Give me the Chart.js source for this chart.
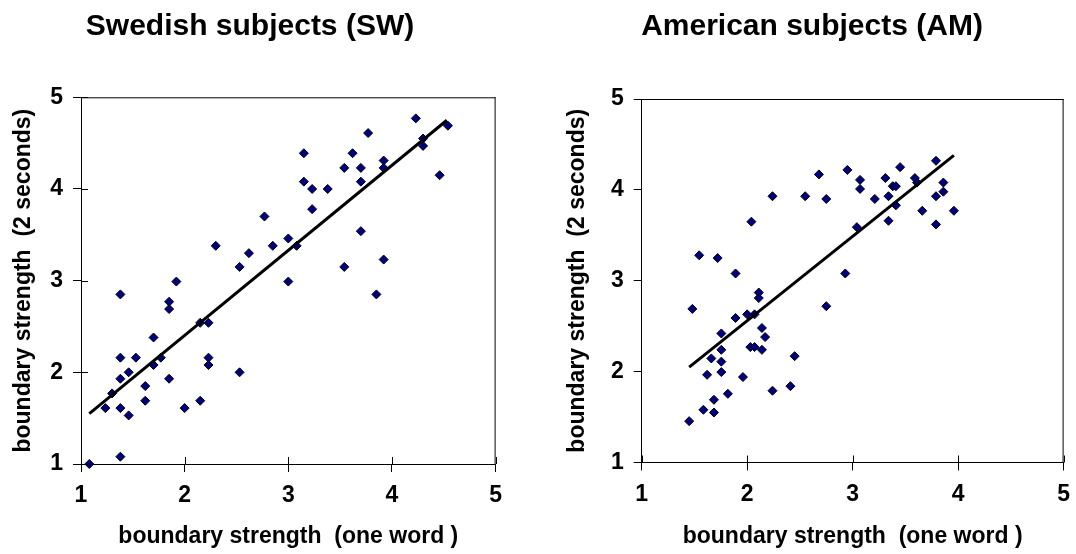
<!DOCTYPE html>
<html><head><meta charset="utf-8">
<script src="https://cdn.jsdelivr.net/npm/chart.js@4.4.1/dist/chart.umd.min.js"></script>
<style>
html,body{margin:0;padding:0;background:#fff;overflow:hidden;width:1076px;height:554px;}
canvas{position:absolute;top:0;}
#c1{left:0px;}
#c2{left:556px;}
</style></head><body>
<canvas id="c1" width="512" height="554"></canvas>
<canvas id="c2" width="524" height="554"></canvas>
<script>
// Swedish subjects (SW)
const swX = [1.08,1.38,1.235,1.38,1.46,1.30,1.38,1.46,1.38,1.53,1.38,1.62,1.62,1.70,1.77,1.70,1.85,1.85,1.85,1.92,2.00,2.15,2.15,2.23,2.23,2.23,2.30,2.53,2.53,2.62,2.77,2.85,3.00,3.08,3.00,3.15,3.15,3.23,3.23,3.38,3.54,3.62,3.70,3.70,3.77,3.70,3.54,3.92,3.92,3.92,3.85,4.23,4.30,4.30,4.54,4.46];
const swY = [1.00,1.08,1.61,1.61,1.53,1.77,1.93,2.00,2.16,2.16,2.85,1.85,1.69,2.08,2.16,2.38,1.93,2.69,2.77,2.99,1.61,1.69,2.54,2.54,2.16,2.08,3.38,2.00,3.15,3.30,3.70,3.38,3.46,3.38,2.99,4.39,4.08,4.00,3.78,4.00,4.23,4.39,4.23,4.08,4.61,3.54,3.15,4.31,4.23,3.23,2.85,4.77,4.55,4.47,4.69,4.15];
// American subjects (AM)
const amX = [1.45,1.48,1.545,1.585,1.62,1.66,1.685,1.685,1.72,1.755,1.755,1.755,1.755,1.817,1.89,1.89,1.96,2.00,2.04,2.07,2.03,2.07,2.11,2.11,2.14,2.14,2.17,2.24,2.24,2.41,2.45,2.55,2.68,2.75,2.75,2.95,2.93,3.04,3.07,3.07,3.21,3.31,3.34,3.34,3.38,3.41,3.41,3.45,3.59,3.61,3.66,3.79,3.79,3.79,3.86,3.86,3.96];
const amY = [1.455,2.69,3.28,1.58,1.965,2.145,1.69,1.55,3.25,2.42,2.24,2.11,1.995,1.756,3.08,2.59,1.94,2.63,3.65,2.63,2.27,2.27,2.87,2.81,2.48,2.24,2.38,3.93,1.79,1.84,2.17,3.93,4.17,3.90,2.72,4.22,3.08,3.59,4.11,4.01,3.90,4.13,3.93,3.66,4.04,4.04,3.83,4.25,4.13,4.08,3.77,4.32,3.93,3.62,4.08,3.98,3.77];
// trend lines (end points)
const swFitX = [1.08, 4.53];
const swFitY = [1.55, 4.75];
const amFitX = [1.45, 3.96];
const amFitY = [2.05, 4.38];
const tickValues = [1, 2, 3, 4, 5];
const chartTitles = ['Swedish subjects (SW)', 'American subjects (AM)'];
const xTitle = 'boundary strength  (one word )';
const yTitle = 'boundary strength  (2 seconds)';

const FONT = '"Liberation Sans", Arial, Helvetica, sans-serif';

function pts(xs, ys){ return xs.map((x,i)=>({x:x, y:ys[i]})); }

const framePlugin = {
  id: 'frame',
  afterDatasetsDraw(chart, args, opts){
    const {ctx, chartArea:a, scales} = chart;
    ctx.save();
    ctx.strokeStyle = '#333';
    ctx.lineWidth = 1;
    ctx.beginPath();
    ctx.moveTo(a.left, a.top + 0.5); ctx.lineTo(a.right, a.top + 0.5);
    ctx.moveTo(a.right - 0.5, a.top); ctx.lineTo(a.right - 0.5, a.bottom);
    // inner tick marks
    ctx.strokeStyle = '#000';
    scales.x.ticks.forEach(t=>{
      const px = Math.round(scales.x.getPixelForValue(t.value)) + 0.5;
      ctx.moveTo(px, a.bottom); ctx.lineTo(px, a.bottom - 7);
    });
    if (opts.innerY) {
      scales.y.ticks.forEach(t=>{
        const py = Math.round(scales.y.getPixelForValue(t.value)) + 0.5;
        ctx.moveTo(a.left, py); ctx.lineTo(a.left + 7, py);
      });
    }
    ctx.stroke();
    ctx.restore();
  }
};

function makeChart(id, title, xs, ys, fx, fy, cfg){
  return new Chart(document.getElementById(id), {
    type: 'scatter',
    data: {
      datasets: [
        { data: pts(fx, fy), showLine: true, borderColor: '#000', borderWidth: 3,
          pointRadius: 0, pointHoverRadius: 0, fill: false, clip: false },
        { data: pts(xs, ys), pointStyle: 'rectRot', pointRadius: 4.5, pointHoverRadius: 4.5,
          backgroundColor: '#000080', borderColor: '#000', borderWidth: 1, clip: false }
      ]
    },
    options: {
      responsive: false, animation: false, devicePixelRatio: 1,
      layout: { padding: { left: 0, right: 12, top: 0, bottom: 0 } },
      plugins: {
        legend: { display: false }, tooltip: { enabled: false },
        title: { display: true, text: title, color: '#000',
          font: { family: FONT, size: 30, weight: 'bold' },
          padding: { top: 9, bottom: cfg.titleBottom } },
        frame: { innerY: cfg.innerY }
      },
      scales: {
        x: {
          type: 'linear', min: 1, max: 5,
          afterBuildTicks: s => { s.ticks = tickValues.map(v => ({value: v})); },
          afterFit: s => { s.height = cfg.xHeight; },
          grid: { drawOnChartArea: false, drawTicks: true, tickLength: 8, color: '#000' },
          border: { color: '#000', width: 1 },
          ticks: { color: '#000', padding: 10, font: { family: FONT, size: 23, weight: 'bold' }, maxRotation: 0 },
          title: { display: true, text: xTitle, color: '#000', padding: { top: 0, bottom: 4 },
            font: { family: FONT, size: 23, weight: 'bold' } }
        },
        y: {
          type: 'linear', min: 1, max: 5,
          afterBuildTicks: s => { s.ticks = tickValues.map(v => ({value: v})); },
          afterFit: s => { s.width = cfg.yWidth; },
          grid: { drawOnChartArea: false, drawTicks: true, tickLength: 8, color: '#000' },
          border: { color: '#000', width: 1 },
          ticks: { color: '#000', padding: 10, font: { family: FONT, size: 23, weight: 'bold' } },
          title: { display: true, text: yTitle, color: '#000', padding: { top: cfg.yTitlePad, bottom: 0 },
            font: { family: FONT, size: 23, weight: 'bold' } }
        }
      }
    },
    plugins: [framePlugin]
  });
}

makeChart('c1', chartTitles[0], swX, swY, swFitX, swFitY,
  { titleBottom: 52.3, xHeight: 90, yWidth: 81, yTitlePad: 10, innerY: true });
makeChart('c2', chartTitles[1], amX, amY, amFitX, amFitY,
  { titleBottom: 54, xHeight: 91.5, yWidth: 85.7, yTitlePad: 8, innerY: false });
</script>
</body></html>
